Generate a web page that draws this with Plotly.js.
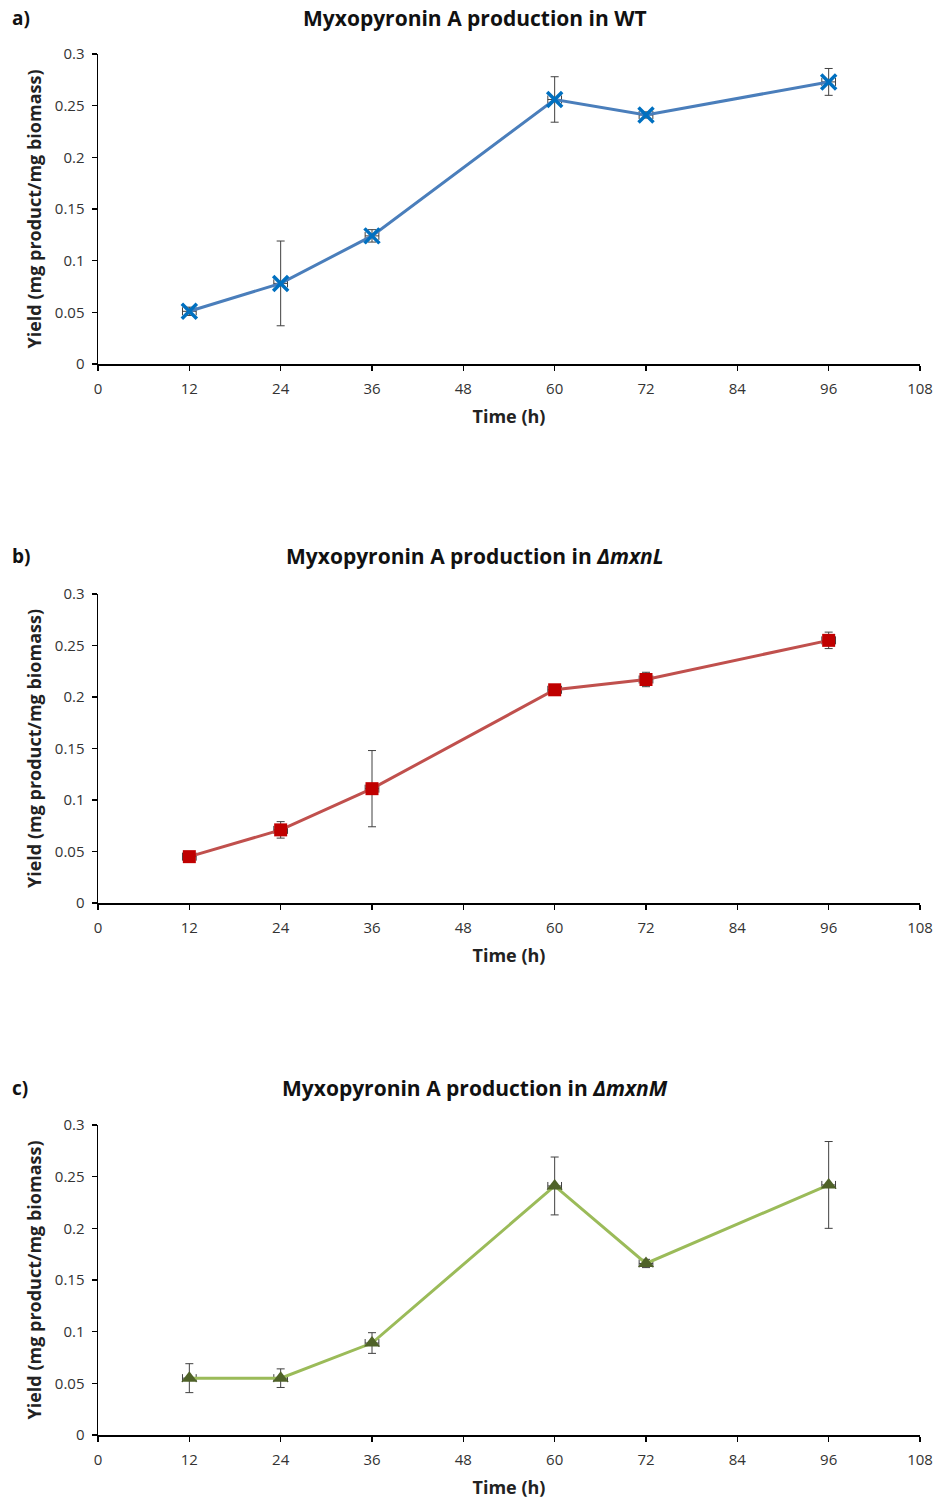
<!DOCTYPE html>
<html><head><meta charset="utf-8">
<script src="https://cdn.plot.ly/plotly-3.0.1.min.js"></script>
<style>html,body{margin:0;padding:0;background:#fff}#chart{width:938px;height:1500px}</style>
</head><body><div id="chart"></div>
<script>
const timeH = [12, 24, 36, 60, 72, 96];
const wtYield = [0.051, 0.078, 0.124, 0.256, 0.241, 0.273];
const wtErr = [0.004, 0.041, 0.006, 0.022, 0.003, 0.013];
const mxnLYield = [0.045, 0.071, 0.111, 0.207, 0.217, 0.255];
const mxnLErr = [0.003, 0.008, 0.037, 0.003, 0.007, 0.008];
const mxnMYield = [0.055, 0.055, 0.089, 0.241, 0.166, 0.242];
const mxnMErr = [0.014, 0.009, 0.010, 0.028, 0.004, 0.042];
const timeErr = [0.9, 0.9, 0.9, 0.9, 0.9, 0.9];
const panelTitles = ["Myxopyronin A production in WT",
  "Myxopyronin A production in <i>∆mxnL</i>",
  "Myxopyronin A production in <i>∆mxnM</i>"];
const panelLabels = ["a)", "b)", "c)"];
const xTitle = "Time (h)";
const yTitle = "Yield (mg product/mg biomass)";

const FONT = "Open Sans, Lato, sans-serif";
const errStyle = {color: "#404040", thickness: 1, width: 4};

function tr(y, e, ax, lineColor, mSym, mColor, mSize) {
  return {
    x: timeH, y: y, xaxis: "x" + ax, yaxis: "y" + ax,
    type: "scatter", mode: "lines+markers",
    line: {color: lineColor, width: 3},
    marker: {symbol: mSym, color: mColor, size: mSize, line: {width: 0}},
    error_y: Object.assign({type: "data", array: e, visible: true}, errStyle),
    error_x: Object.assign({type: "data", array: timeErr, visible: true}, errStyle),
    showlegend: false, hoverinfo: "x+y"
  };
}

const data = [
  tr(wtYield, wtErr, "", "#4a7ebb", "x-thin-open", "#0070c0", 15),
  tr(mxnLYield, mxnLErr, "2", "#c0504d", "square", "#c00000", 13),
  tr(mxnMYield, mxnMErr, "3", "#9bbb59", "triangle-up", "#4f6228", 14)
];
data[0].marker.line = {width: 3.5, color: "#0070c0"};

const xDom = [98/938, 920/938];
const yDoms = [[1-364/1500, 1-54/1500], [1-903/1500, 1-594/1500], [1-1435/1500, 1-1125/1500]];

function xa(anchor, dom) {
  return {domain: dom, anchor: anchor, range: [0, 108], dtick: 12, tick0: 0,
    showgrid: false, zeroline: false, showline: true, linecolor: "#000", linewidth: 1.5,
    ticks: "outside", ticklen: 5, tickcolor: "#000", tickwidth: 1.5, ticklabelstandoff: 5,
    tickfont: {family: FONT, size: 15, color: "#333"},
    title: {text: "<b>" + xTitle + "</b>", font: {family: FONT, size: 18, color: "#222"}, standoff: 14}};
}
function ya(anchor, dom) {
  return {domain: dom, anchor: anchor, range: [0, 0.3], dtick: 0.05, tick0: 0,
    showgrid: false, zeroline: false, showline: true, linecolor: "#000", linewidth: 1.5,
    ticks: "outside", ticklen: 5, tickcolor: "#000", tickwidth: 1.5, ticklabelstandoff: 4,
    tickfont: {family: FONT, size: 15, color: "#333"},
    title: {text: "<b>" + yTitle + "</b>", font: {family: FONT, size: 18, color: "#222"}, standoff: 8}};
}

const titleY = [18, 556, 1088];
const annotations = [];
for (let i = 0; i < 3; i++) {
  annotations.push({text: "<b>" + panelTitles[i] + "</b>", xref: "paper", yref: "paper",
    x: 475/938, y: 1 - titleY[i]/1500, xanchor: "center", yanchor: "middle", showarrow: false,
    font: {family: FONT, size: 21, color: "#111"}});
  annotations.push({text: "<b>" + panelLabels[i] + "</b>", xref: "paper", yref: "paper",
    x: 10/938, y: 1 - titleY[i]/1500, xanchor: "left", yanchor: "middle", showarrow: false,
    font: {family: FONT, size: 19, color: "#111"}});
}

const layout = {
  width: 938, height: 1500, margin: {l: 0, r: 0, t: 0, b: 0},
  paper_bgcolor: "#fff", plot_bgcolor: "#fff",
  xaxis: xa("y", xDom), yaxis: ya("x", yDoms[0]),
  xaxis2: xa("y2", xDom), yaxis2: ya("x2", yDoms[1]),
  xaxis3: xa("y3", xDom), yaxis3: ya("x3", yDoms[2]),
  annotations: annotations
};
Plotly.newPlot("chart", data, layout, {displayModeBar: false, staticPlot: true});
</script></body></html>
